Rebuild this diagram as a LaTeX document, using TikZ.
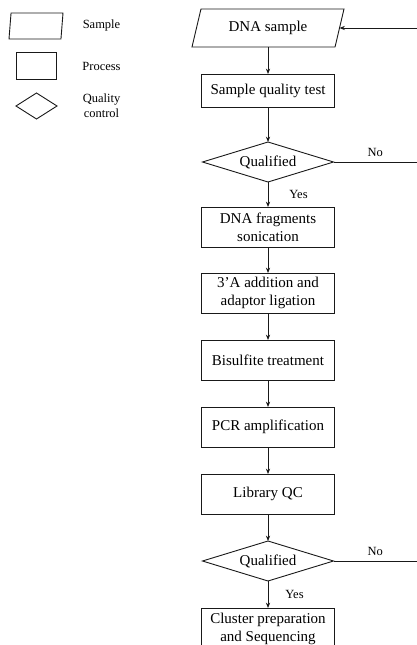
\documentclass[tikz,border=0pt]{standalone}
\usepackage{fontspec}
\setmainfont{Liberation Serif}
\usetikzlibrary{arrows.meta,positioning,shapes.geometric}
\tikzset{
  >={Stealth[length=1.9mm,width=1.5mm]},
  box/.style={draw=black!90,line width=0.9pt,outer sep=0pt,minimum width=133pt,minimum height=40pt,inner sep=2pt,align=center,font=\fontsize{15}{18}\selectfont},
  dbox/.style={box,trapezium,trapezium left angle=63,trapezium right angle=117,trapezium stretches body=true,minimum width=152pt,minimum height=38pt},
  qbox/.style={box,diamond,aspect=3.3,inner sep=0pt,minimum width=131pt,minimum height=40pt},
  lab/.style={font=\fontsize{12.5}{15}\selectfont,align=center,inner sep=1pt},
  arr/.style={->,draw=black!90,line width=0.9pt},
  ln/.style={draw=black!90,line width=0.9pt},
}
\begin{document}
\begin{tikzpicture}[x=1pt,y=-1pt,node distance=27pt]
\path[use as bounding box] (0,0) rectangle (417,645);
\clip (0,0) rectangle (417,645);
% legend
\node[dbox,minimum width=54pt,minimum height=26pt] (lgs) at (36,26) {};
\node[box,minimum width=40pt,minimum height=27pt] (lgp) at (36,65.5) {};
\node[qbox,minimum width=41pt,minimum height=26pt] (lgq) at (36.5,106) {};
\node[lab] (lgst) at (101.5,25) {Sample};
\node[lab] (lgpt) at (101.5,66) {Process};
\node[lab] (lgqt) at (101.5,105.5) {Quality\\control};
% main flow
\node[dbox] (dna) at (268,28) {DNA sample};
\node[box,minimum height=33pt,below=of dna] (sqt) {Sample quality test};
\node[qbox,below=35pt of sqt] (q1) {Qualified};
\node[box,below=25pt of q1] (frag) {DNA fragments\\sonication};
\node[box,below=26pt of frag] (lig) {3'A addition and\\adaptor ligation};
\node[box,below=of lig] (bis) {Bisulfite treatment};
\node[box,below=of bis] (pcr) {PCR amplification};
\node[box,below=of pcr] (lib) {Library QC};
\node[qbox,below=of lib] (q2) {Qualified};
\node[box,minimum height=41pt,below=of q2] (seq) {Cluster preparation\\and Sequencing};
\draw[arr] (dna.south)--(sqt.north); \draw[arr] (sqt.south)--(q1.north);
\draw[arr] (q1.south)--(frag.north) node[lab,midway,right=20pt] {Yes};
\draw[arr] (frag.south)--(lig.north); \draw[arr] (lig.south)--(bis.north);
\draw[arr] (bis.south)--(pcr.north); \draw[arr] (pcr.south)--(lib.north);
\draw[arr] (lib.south)--(q2.north);
\draw[arr] (q2.south)--(seq.north) node[lab,midway,right=16pt] {Yes};
% back to sample
\coordinate (edge) at (417,0);
\draw[ln] (q1.east)--(q1.east -| edge) node[lab,midway,above=4pt] {No};
\draw[ln] (q2.east)--(q2.east -| edge) node[lab,midway,above=4pt] {No};
\draw[arr] (dna.east -| edge)--(dna.east);
\end{tikzpicture}
\end{document}
